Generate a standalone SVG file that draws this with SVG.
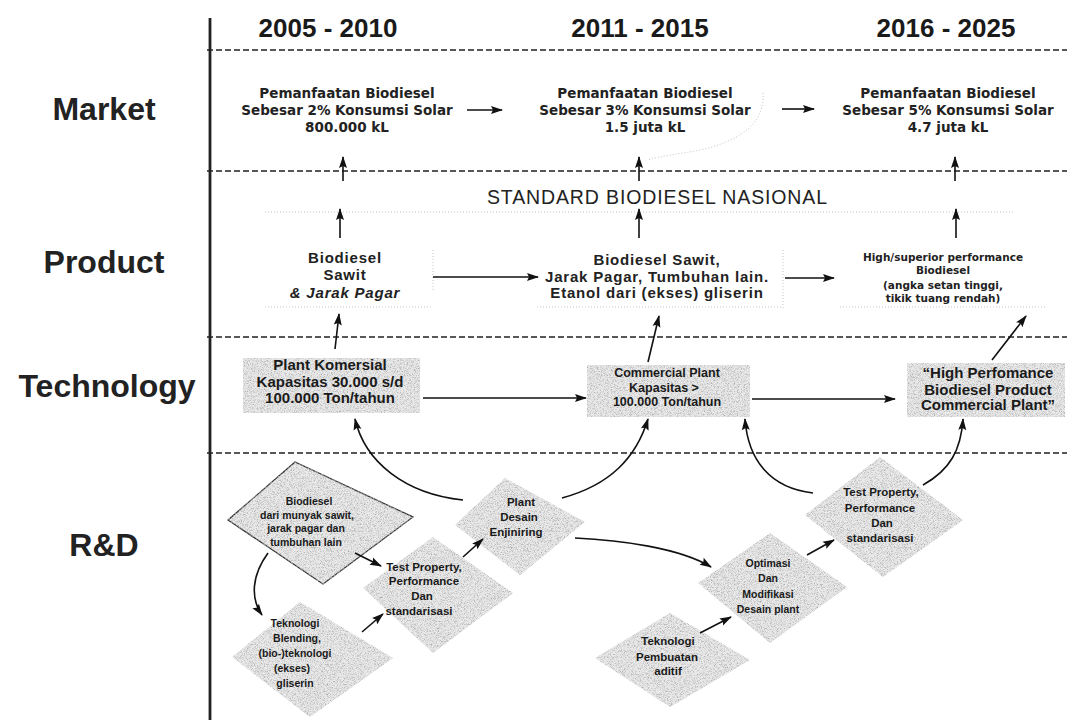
<svg xmlns="http://www.w3.org/2000/svg" width="1067" height="720" viewBox="0 0 1067 720">
  <style>
    .lane { font-family: "Liberation Sans", Arial, sans-serif; font-weight: bold; font-size: 32px; fill: #222; text-anchor: middle; }
    .year { font-family: "Liberation Sans", Arial, sans-serif; font-weight: bold; font-size: 26px; fill: #1a1a1a; text-anchor: middle; }
    .mkt { font-family: "DejaVu Sans", Verdana, sans-serif; font-weight: bold; font-size: 13.5px; fill: #222; text-anchor: middle; }
    .prd { font-family: "Liberation Sans", Arial, sans-serif; font-weight: bold; font-size: 15px; letter-spacing: 0.8px; fill: #222; text-anchor: middle; }
    .prd3 { font-family: "DejaVu Sans", Verdana, sans-serif; font-weight: bold; font-size: 10.5px; fill: #222; text-anchor: middle; }
    .std { font-family: "Liberation Sans", Arial, sans-serif; font-size: 19.5px; fill: #222; text-anchor: middle; }
    .tech { font-family: "Liberation Sans", Arial, sans-serif; font-weight: bold; font-size: 15px; fill: #1a1a1a; text-anchor: middle; }
    .tech2 { font-family: "Liberation Sans", Arial, sans-serif; font-weight: bold; font-size: 12.5px; fill: #1a1a1a; text-anchor: middle; }
    .rd { font-family: "Liberation Sans", Arial, sans-serif; font-weight: bold; font-size: 10.5px; fill: #1a1a1a; text-anchor: middle; }
    .rdL { font-family: "Liberation Sans", Arial, sans-serif; font-weight: bold; font-size: 11.5px; fill: #1a1a1a; text-anchor: middle; }
    .sep { stroke: #222; stroke-width: 1.3; stroke-dasharray: 6 3; fill: none; }
    .faint { stroke: #c4c4c4; stroke-width: 1; stroke-dasharray: 1 2; fill: none; }
    .box { fill: #e9e9e9; filter: url(#grain); }
    .link { stroke: #111; stroke-width: 1.6; fill: none; marker-end: url(#ah); }
  </style>
  <defs>
    <!-- speckled grey fill used by the process boxes and diamonds -->
    <filter id="grain" x="-3%" y="-3%" width="106%" height="106%">
      <feTurbulence type="fractalNoise" baseFrequency="1.3" numOctaves="1" seed="7" result="noise"/>
      <feColorMatrix in="noise" type="matrix" values="0 0 0 0 0.42  0 0 0 0 0.42  0 0 0 0 0.42  3.2 0 0 0 -1.45" result="dots"/>
      <feComposite in="dots" in2="SourceAlpha" operator="in" result="specks"/>
      <feMerge><feMergeNode in="SourceGraphic"/><feMergeNode in="specks"/></feMerge>
    </filter>
    <marker id="ah" viewBox="0 0 12 10" refX="11" refY="5" markerWidth="13" markerHeight="10" markerUnits="userSpaceOnUse" orient="auto">
      <path d="M0,1 L12,5 L0,9 L2,5 z" fill="#111"/>
    </marker>
  </defs>

  <rect width="1067" height="720" fill="#fff"/>

  <!-- axis and lane separators -->
  <g id="frame">
    <line x1="210" y1="18" x2="210" y2="720" stroke="#222" stroke-width="2.8"/>
    <line class="sep" x1="207" y1="50" x2="1067" y2="50"/>
    <line class="sep" x1="207" y1="171" x2="1067" y2="171"/>
    <line class="sep" x1="207" y1="337" x2="1067" y2="337"/>
    <line class="sep" x1="207" y1="453" x2="1067" y2="453"/>
    <!-- light borders of the standard and product panels -->
    <line class="faint" x1="265" y1="212" x2="1013" y2="212"/>
    <line class="faint" x1="265" y1="307" x2="432" y2="307"/>
    <line class="faint" x1="537" y1="307" x2="783" y2="307"/>
    <line class="faint" x1="840" y1="307" x2="1047" y2="307"/>
    <line class="faint" x1="433" y1="250" x2="433" y2="292"/>
    <line class="faint" x1="783" y1="250" x2="783" y2="308"/>
    <path class="faint" d="M763,93 C765,120 745,140 700,150 C680,154 660,156 648,160"/>
  </g>

  <!-- lane titles -->
  <g id="lanes">
    <text class="lane" x="104" y="120">Market</text>
    <text class="lane" x="104" y="273">Product</text>
    <text class="lane" x="107" y="397">Technology</text>
    <text class="lane" x="104" y="556">R&amp;D</text>
  </g>

  <!-- period headers -->
  <g id="periods">
    <text class="year" x="328" y="37">2005 - 2010</text>
    <text class="year" x="640" y="37">2011 - 2015</text>
    <text class="year" x="946" y="37">2016 - 2025</text>
  </g>

  <!-- market -->
  <g id="market-2010">
    <text class="mkt" x="347" y="98"><tspan x="347">Pemanfaatan Biodiesel</tspan><tspan x="347" dy="17">Sebesar 2% Konsumsi Solar</tspan><tspan x="347" dy="17">800.000 kL</tspan></text>
  </g>
  <g id="market-2015">
    <text class="mkt" x="645" y="98"><tspan x="645">Pemanfaatan Biodiesel</tspan><tspan x="645" dy="17">Sebesar 3% Konsumsi Solar</tspan><tspan x="645" dy="17">1.5 juta kL</tspan></text>
  </g>
  <g id="market-2025">
    <text class="mkt" x="948" y="98"><tspan x="948">Pemanfaatan Biodiesel</tspan><tspan x="948" dy="17">Sebesar 5% Konsumsi Solar</tspan><tspan x="948" dy="17">4.7 juta kL</tspan></text>
  </g>

  <!-- national standard -->
  <g id="standard">
    <text class="std" x="657" y="204" textLength="340" lengthAdjust="spacing">STANDARD BIODIESEL NASIONAL</text>
  </g>

  <!-- products -->
  <g id="product-2010">
    <text class="prd" x="345" y="263"><tspan x="345">Biodiesel</tspan><tspan x="345" dy="17">Sawit</tspan><tspan x="345" dy="18" font-style="italic">&amp; Jarak Pagar</tspan></text>
  </g>
  <g id="product-2015">
    <text class="prd" x="657" y="265"><tspan x="657">Biodiesel Sawit,</tspan><tspan x="657" dy="17">Jarak Pagar, Tumbuhan lain.</tspan><tspan x="657" dy="16">Etanol dari (ekses) gliserin</tspan></text>
  </g>
  <g id="product-2025">
    <text class="prd3" x="943" y="261"><tspan x="943">High/superior performance</tspan><tspan x="943" dy="13">Biodiesel</tspan><tspan x="943" dy="15">(angka setan tinggi,</tspan><tspan x="943" dy="13">tikik tuang rendah)</tspan></text>
  </g>

  <!-- technology -->
  <g id="tech-2010">
    <rect class="box" x="243" y="358" width="177" height="55"/>
    <text class="tech" x="330" y="370"><tspan x="330">Plant Komersial</tspan><tspan x="330" dy="17">Kapasitas 30.000 s/d</tspan><tspan x="330" dy="16">100.000 Ton/tahun</tspan></text>
  </g>
  <g id="tech-2015">
    <rect class="box" x="587" y="365" width="163" height="52"/>
    <text class="tech2" x="667" y="377"><tspan x="667">Commercial Plant</tspan><tspan x="664" dy="15">Kapasitas &gt;</tspan><tspan x="667" dy="14">100.000 Ton/tahun</tspan></text>
  </g>
  <g id="tech-2025">
    <rect class="box" x="907" y="363" width="158" height="54"/>
    <text class="tech" x="988" y="378"><tspan x="988">“High Perfomance</tspan><tspan x="988" dy="17">Biodiesel Product</tspan><tspan x="988" dy="15">Commercial  Plant”</tspan></text>
  </g>

  <!-- research and development -->
  <g id="rd-biodiesel">
    <polygon class="box" points="228,520 295,462 413,517 323,584" stroke="#333" stroke-width="1.3"/>
    <text class="rd" x="307" y="505" font-size="10"><tspan x="309">Biodiesel</tspan><tspan x="307" dy="13.5">dari munyak sawit,</tspan><tspan x="306" dy="13.5">jarak pagar dan</tspan><tspan x="306" dy="13.5">tumbuhan lain</tspan></text>
  </g>
  <g id="rd-blending">
    <polygon class="box" points="232,657 300,602 393,658 310,717"/>
    <text class="rd" x="295" y="627"><tspan x="295">Teknologi</tspan><tspan x="297" dy="15">Blending,</tspan><tspan x="295" dy="15">(bio-)teknologi</tspan><tspan x="292" dy="15">(ekses)</tspan><tspan x="295" dy="15">gliserin</tspan></text>
  </g>
  <g id="rd-test-1">
    <polygon class="box" points="363,588 433,537 513,593 433,653"/>
    <text class="rdL" x="423" y="571"><tspan x="424">Test Property,</tspan><tspan x="424" dy="14">Performance</tspan><tspan x="422" dy="15">Dan</tspan><tspan x="419" dy="15">standarisasi</tspan></text>
  </g>
  <g id="rd-plant-design">
    <polygon class="box" points="455,525 505,478 585,522 520,575"/>
    <text class="rdL" x="519" y="506"><tspan x="521">Plant</tspan><tspan x="519" dy="15">Desain</tspan><tspan x="516" dy="15">Enjiniring</tspan></text>
  </g>
  <g id="rd-optimasi">
    <polygon class="box" points="698,583 770,533 847,587 770,643"/>
    <text class="rd" x="768" y="567"><tspan x="768">Optimasi</tspan><tspan x="768" dy="15">Dan</tspan><tspan x="768" dy="15.5">Modifikasi</tspan><tspan x="768" dy="15.5">Desain plant</tspan></text>
  </g>
  <g id="rd-aditif">
    <polygon class="box" points="595,658 670,613 750,660 670,707"/>
    <text class="rdL" x="668" y="645"><tspan x="668">Teknologi</tspan><tspan x="667" dy="15.5">Pembuatan</tspan><tspan x="668" dy="14.5">aditif</tspan></text>
  </g>
  <g id="rd-test-2">
    <polygon class="box" points="805,515 880,457 963,520 883,577"/>
    <text class="rdL" x="880" y="496"><tspan x="881">Test Property,</tspan><tspan x="880" dy="15.5">Performance</tspan><tspan x="882" dy="15">Dan</tspan><tspan x="880" dy="15">standarisasi</tspan></text>
  </g>

  <!-- connectors -->
  <g id="connectors">
    <!-- market progression -->
    <path class="link" d="M467,110 L502,110"/>
    <path class="link" d="M782,109 L814,109"/>
    <!-- standard up to market -->
    <path class="link" d="M343,181 L343,157"/>
    <path class="link" d="M639,181 L639,157"/>
    <path class="link" d="M955,181 L955,157"/>
    <!-- product up to standard -->
    <path class="link" d="M340,238 L340,209"/>
    <path class="link" d="M639,238 L639,209"/>
    <path class="link" d="M956,238 L956,209"/>
    <!-- product progression -->
    <path class="link" d="M433,277 L538,277"/>
    <path class="link" d="M785,278 L834,278"/>
    <!-- technology up to product -->
    <path class="link" d="M335,349 L339,314"/>
    <path class="link" d="M648,362 L659,316"/>
    <path class="link" d="M992,360 L1026,316"/>
    <!-- technology progression -->
    <path class="link" d="M423,398 L586,398"/>
    <path class="link" d="M752,399 L895,399"/>
    <!-- R&D up to technology -->
    <path class="link" d="M463,500 C405,494 365,462 355,419"/>
    <path class="link" d="M562,498 C610,485 636,458 648,419"/>
    <path class="link" d="M813,493 C770,488 748,460 745,419"/>
    <path class="link" d="M923,485 C950,470 961,450 963,419"/>
    <!-- R&D flow -->
    <path class="link" d="M268,553 C252,575 250,598 262,615"/>
    <path class="link" d="M355,553 L381,566"/>
    <path class="link" d="M362,632 L383,614"/>
    <path class="link" d="M463,557 L483,539"/>
    <path class="link" d="M575,538 C620,540 680,548 711,567"/>
    <path class="link" d="M700,633 L731,617"/>
    <path class="link" d="M807,555 L834,540"/>
  </g>
</svg>
